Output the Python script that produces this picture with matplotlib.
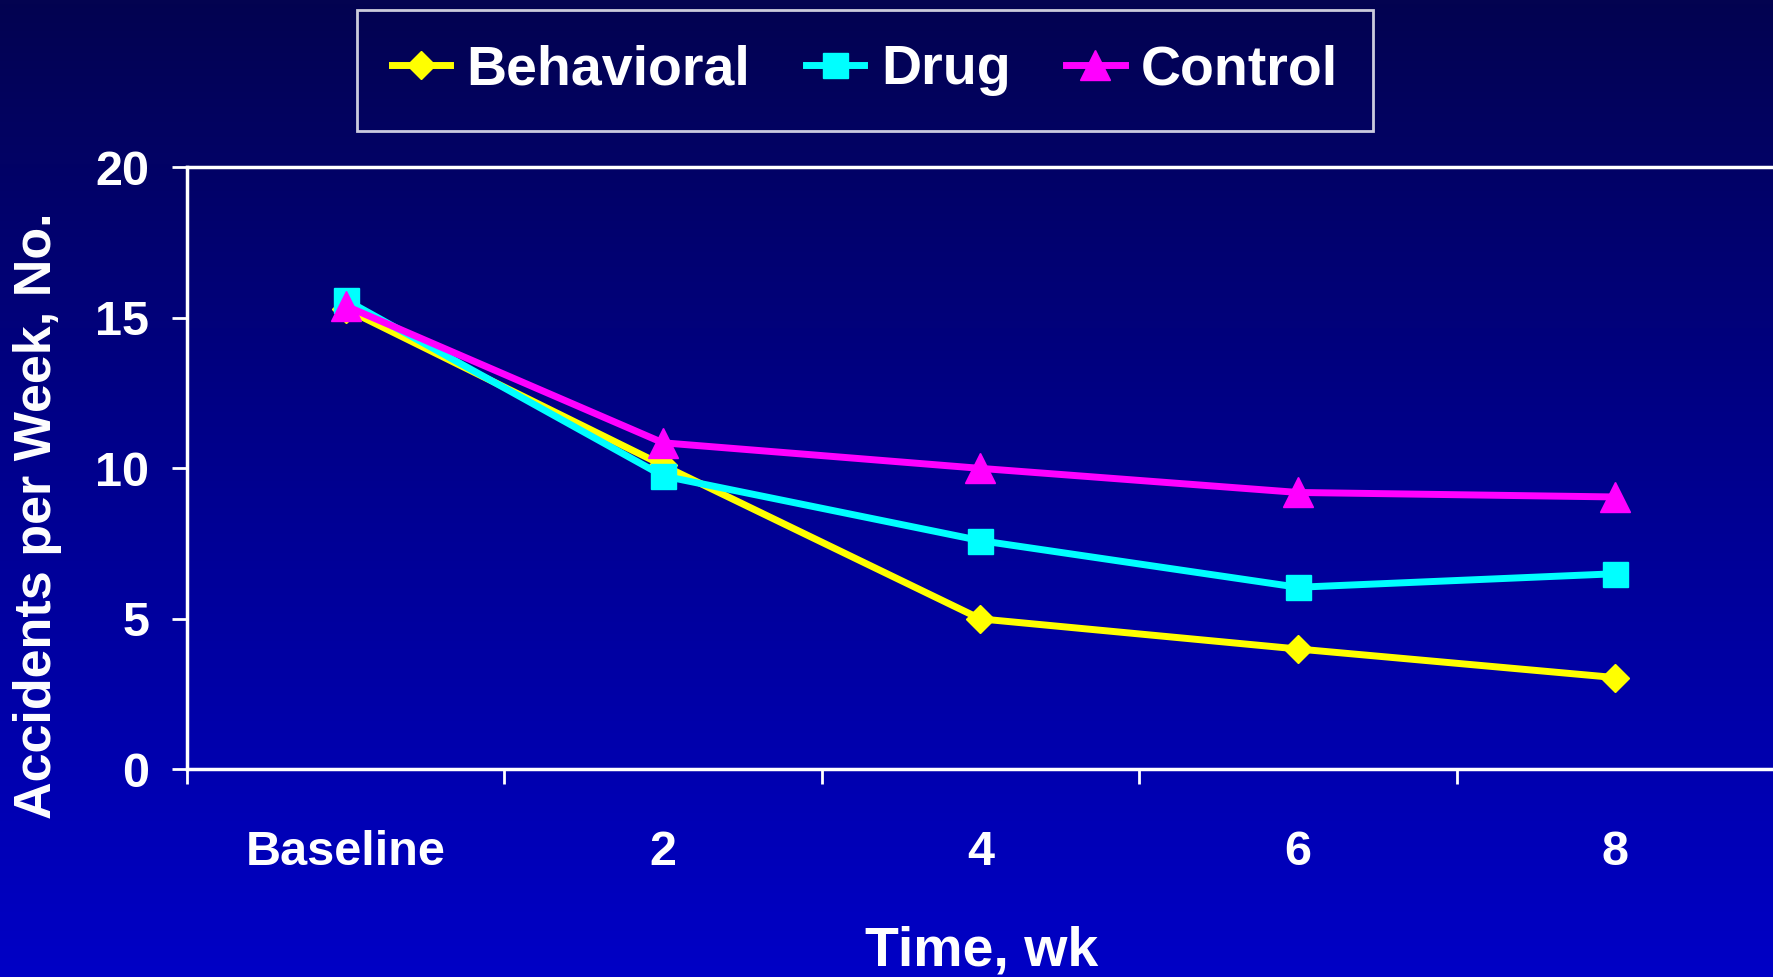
import numpy as np
import matplotlib
matplotlib.use('Agg')
import matplotlib.pyplot as plt
from matplotlib.colors import LinearSegmentedColormap

plt.rcParams['font.family'] = ['Liberation Sans', 'DejaVu Sans']
plt.rcParams['font.weight'] = 'bold'

categories = ['Baseline', '2', '4', '6', '8']
behavioral = [15.3, 10.1, 5.0, 4.0, 3.05]
drug = [15.6, 9.75, 7.6, 6.05, 6.5]
control = [15.4, 10.85, 10.0, 9.2, 9.05]

fig = plt.figure(figsize=(17.74, 9.77), dpi=100)

# fondo degradado azul
bg = fig.add_axes([0, 0, 1, 1], zorder=-10)
grad = np.linspace(0, 1, 256).reshape(-1, 1)
cmap = LinearSegmentedColormap.from_list('slide', ['#030350', '#000090', '#0000c6'])
bg.imshow(grad, aspect='auto', cmap=cmap, extent=[0, 1, 0, 1])
bg.axis('off')

ax = fig.add_axes([0.1053, 0.2125, 0.8947, 0.6162])
ax.patch.set_alpha(0)

x = np.arange(len(categories))
ax.plot(x, behavioral, color='#ffff00', lw=5, marker='D', ms=14, label='Behavioral')
ax.plot(x, drug, color='#00ffff', lw=5, marker='s', ms=18, label='Drug')
ax.plot(x, control, color='#ff00ff', lw=5, marker='^', ms=21, label='Control')

ax.set_xlim(-0.5, 4.5)
ax.set_ylim(0, 20)
ax.set_yticks([0, 5, 10, 15, 20])
ax.set_xticks(x)
ax.set_xticklabels(categories)
ax.set_xticks(np.arange(-0.5, 4, 1), minor=True)

for side in ['left', 'top', 'bottom']:
    ax.spines[side].set_color('white')
    ax.spines[side].set_linewidth(2.5)
ax.spines['right'].set_visible(False)

ax.tick_params(axis='x', which='major', length=0, pad=44, labelsize=35, colors='white')
ax.tick_params(axis='x', which='minor', length=11, width=2, color='white', direction='out')
ax.tick_params(axis='y', length=11, width=2, color='white', direction='out',
               pad=16, labelsize=35, labelcolor='white')

fig.text(38 / 1774, 1 - 516 / 977, 'Accidents per Week, No.', rotation=90,
         ha='center', va='center', fontsize=37.5, color='white')
fig.text(0.5535, 0.012, 'Time, wk', ha='center', va='baseline', fontsize=40, color='white')

leg = fig.legend(loc='center', bbox_to_anchor=(0.4876, 0.928), ncol=3, fontsize=40,
                 frameon=True, fancybox=False, handlelength=1.05, handletextpad=0.3,
                 columnspacing=1.0, borderpad=0.62, labelcolor='white')
leg.get_frame().set_facecolor('none')
leg.get_frame().set_edgecolor('white')
leg.get_frame().set_linewidth(2)

plt.savefig('out.png', dpi=100)
plt.close()
